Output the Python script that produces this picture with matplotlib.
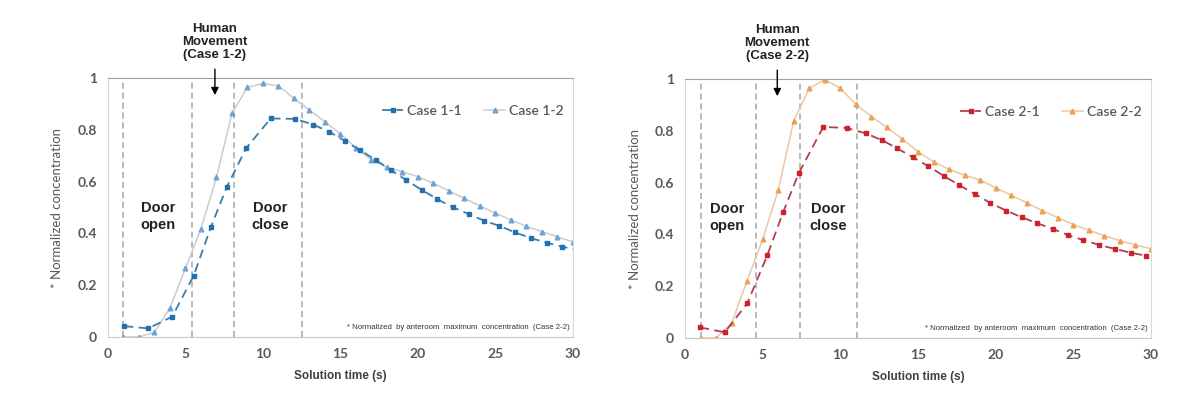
import matplotlib
matplotlib.use("Agg")
import matplotlib.pyplot as plt

# ---- data ----
t11 = [1.05, 2.6, 4.15, 5.53, 6.65, 7.66, 8.9, 10.5, 12.06, 13.25, 14.28, 15.29, 16.26,
       17.29, 18.24, 19.23, 20.24, 21.25, 22.24, 23.27, 24.26, 25.25, 26.26, 27.27, 28.3,
       29.29, 30.3]
c11 = [0.042, 0.033, 0.079, 0.237, 0.426, 0.578, 0.728, 0.844, 0.842, 0.820, 0.792, 0.757,
       0.721, 0.683, 0.645, 0.606, 0.568, 0.532, 0.501, 0.475, 0.449, 0.429, 0.404, 0.382,
       0.364, 0.349, 0.335]

t12 = list(range(1, 31))
c12 = [0.0, 0.0, 0.018, 0.112, 0.265, 0.418, 0.617, 0.864, 0.964, 0.979, 0.970, 0.921,
       0.876, 0.831, 0.784, 0.730, 0.684, 0.655, 0.638, 0.619, 0.593, 0.564, 0.535, 0.506,
       0.478, 0.452, 0.427, 0.407, 0.387, 0.367]

t21 = [0.97, 2.56, 4.01, 5.3, 6.33, 7.32, 8.9, 10.41, 11.64, 12.67, 13.67, 14.66, 15.65,
       16.68, 17.66, 18.67, 19.64, 20.67, 21.68, 22.68, 23.68, 24.64, 25.65, 26.68, 27.69,
       28.7, 29.68]
c21 = [0.041, 0.022, 0.134, 0.320, 0.488, 0.636, 0.815, 0.811, 0.790, 0.764, 0.732, 0.698,
       0.664, 0.625, 0.590, 0.556, 0.522, 0.492, 0.466, 0.443, 0.421, 0.398, 0.378, 0.359,
       0.344, 0.329, 0.318]

t22 = list(range(1, 31))
c22 = [0.0, 0.0, 0.057, 0.221, 0.381, 0.571, 0.839, 0.964, 0.998, 0.964, 0.902, 0.855,
       0.813, 0.768, 0.719, 0.681, 0.651, 0.629, 0.610, 0.580, 0.551, 0.522, 0.492, 0.465,
       0.438, 0.416, 0.395, 0.376, 0.359, 0.345]

vlines1 = [1.0, 5.4, 8.1, 12.5]
vlines2 = [1.0, 4.6, 7.4, 11.05]

panels = [
    dict(pos=[0.0905, 0.1679, 0.3898, 0.6395], t_a=t11, c_a=c11, t_b=t12, c_b=c12,
         lab_a="Case 1-1", lab_b="Case 1-2",
         col_a="#2270B0", line_a="#3A7FA8", col_b="#6FA3D8", line_b="#C8CDD2",
         vl=vlines1, arrow_x=6.9, open_x=3.25, close_x=10.45, human="Case 1-2"),
    dict(pos=[0.5742, 0.1654, 0.3906, 0.6395], t_a=t21, c_a=c21, t_b=t22, c_b=c22,
         lab_a="Case 2-1", lab_b="Case 2-2",
         col_a="#D0202A", line_a="#B04050", col_b="#F0A050", line_b="#E8C8A8",
         vl=vlines2, arrow_x=5.94, open_x=2.69, close_x=9.23, human="Case 2-2"),
]

fig = plt.figure(figsize=(11.93, 4.05), dpi=100)
tickfont = "Lato"
boldfont = "Liberation Sans"

for p in panels:
    ax = fig.add_axes(p["pos"])
    for x in p["vl"]:
        ax.axvline(x, color="#A6A6A6", lw=1.1, ls=(0, (4, 2.5)), zorder=1)
    ax.plot(p["t_a"], p["c_a"], ls=(0, (5, 3)), color=p["line_a"], lw=1.3,
            marker="s", ms=2.8, mfc=p["col_a"], mec=p["col_a"], label=p["lab_a"], zorder=3)
    ax.plot(p["t_b"], p["c_b"], ls="-", color=p["line_b"], lw=1.1,
            marker="^", ms=3.4, mfc=p["col_b"], mec=p["col_b"], label=p["lab_b"], zorder=2)
    ax.set_xlim(0, 30)
    ax.set_ylim(0, 1)
    ax.set_xticks([0, 5, 10, 15, 20, 25, 30])
    ax.set_yticks([0, 0.2, 0.4, 0.6, 0.8, 1])
    ax.set_yticklabels(["0", "0.2", "0.4", "0.6", "0.8", "1"])
    ax.tick_params(length=0, labelsize=10, labelcolor="#595959", pad=8)
    for lab in ax.get_xticklabels() + ax.get_yticklabels():
        lab.set_fontfamily(tickfont)
        lab.set_fontweight("bold")
    for s in ["left", "right"]:
        ax.spines[s].set_color("#D9D9D9")
    ax.spines["top"].set_color("#A0A0A0")
    ax.spines["bottom"].set_color("#C8C8C8")
    ax.set_xlabel("Solution time (s)", fontfamily=boldfont, fontweight="bold",
                  fontsize=8.5, color="#404040", labelpad=7)
    ax.set_ylabel("* Normalized concentration", fontfamily=tickfont, fontsize=9.5,
                  color="#595959", labelpad=10)
    leg = ax.legend(loc="center", bbox_to_anchor=(0.785, 0.872), ncol=2, frameon=False,
                    handlelength=1.5, columnspacing=1.6, handletextpad=0.3,
                    prop=dict(family=tickfont, size=10, weight="semibold"))
    for txt in leg.get_texts():
        txt.set_color("#595959")
    ax.text(p["open_x"], 0.465, "Door\nopen", ha="center", va="center",
            fontfamily=boldfont, fontweight="bold", fontsize=10.5, color="#222222",
            linespacing=1.2)
    ax.text(p["close_x"], 0.465, "Door\nclose", ha="center", va="center",
            fontfamily=boldfont, fontweight="bold", fontsize=10.5, color="#222222",
            linespacing=1.2)
    ax.annotate("", xy=(p["arrow_x"], 0.923), xytext=(p["arrow_x"], 1.045),
                arrowprops=dict(arrowstyle="-|>", color="black", lw=1, mutation_scale=11),
                annotation_clip=False)
    ax.text(p["arrow_x"], 1.065, "Human\nMovement\n(" + p["human"] + ")", ha="center",
            va="bottom", fontfamily=boldfont, fontweight="bold", fontsize=9.5,
            color="#222222", linespacing=1.1, clip_on=False)
    ax.text(29.8, 0.035, "* Normalized  by anteroom  maximum  concentration  (Case 2-2)",
            ha="right", va="center", fontfamily=boldfont, fontsize=5.6, color="#333333")

fig.savefig("out.png", dpi=100)
